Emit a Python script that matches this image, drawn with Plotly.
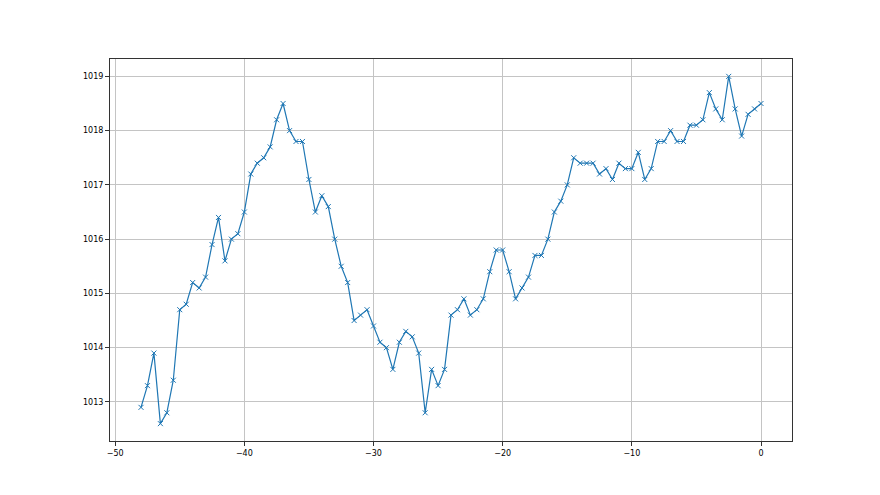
import plotly.graph_objects as go

# Hours relative to now, half-hour steps
hours = [-48 + 0.5 * i for i in range(97)]

# Pressure readings (hPa)
pressure = [
    1012.9, 1013.3, 1013.9, 1012.6, 1012.8, 1013.4, 1014.7, 1014.8, 1015.2, 1015.1,
    1015.3, 1015.9, 1016.4, 1015.6, 1016.0, 1016.1, 1016.5, 1017.2, 1017.4, 1017.5,
    1017.7, 1018.2, 1018.5, 1018.0, 1017.8, 1017.8, 1017.1, 1016.5, 1016.8, 1016.6,
    1016.0, 1015.5, 1015.2, 1014.5, 1014.6, 1014.7, 1014.4, 1014.1, 1014.0, 1013.6,
    1014.1, 1014.3, 1014.2, 1013.9, 1012.8, 1013.6, 1013.3, 1013.6, 1014.6, 1014.7,
    1014.9, 1014.6, 1014.7, 1014.9, 1015.4, 1015.8, 1015.8, 1015.4, 1014.9, 1015.1,
    1015.3, 1015.7, 1015.7, 1016.0, 1016.5, 1016.7, 1017.0, 1017.5, 1017.4, 1017.4,
    1017.4, 1017.2, 1017.3, 1017.1, 1017.4, 1017.3, 1017.3, 1017.6, 1017.1, 1017.3,
    1017.8, 1017.8, 1018.0, 1017.8, 1017.8, 1018.1, 1018.1, 1018.2, 1018.7, 1018.4,
    1018.2, 1019.0, 1018.4, 1017.9, 1018.3, 1018.4, 1018.5,
]

fig = go.Figure()

fig.add_trace(go.Scatter(
    x=hours, y=pressure, mode='lines+markers',
    line=dict(color='#1f77b4', width=1.2),
    marker=dict(symbol='x-thin', size=5, color='#1f77b4',
                line=dict(color='#1f77b4', width=1)),
))

axis_style = dict(
    showgrid=True, gridcolor='#c4c4c4', gridwidth=0.8,
    showline=True, linecolor='#333333', linewidth=1, mirror=True,
    ticks='outside', ticklen=4, tickcolor='#333333', tickwidth=1,
    zeroline=False,
    tickfont=dict(family='DejaVu Sans', size=8, color='black'),
)

fig.update_xaxes(range=[-50.4, 2.4], tickmode='array',
                 tickvals=[-50, -40, -30, -20, -10, 0], **axis_style)
fig.update_yaxes(range=[1012.28, 1019.32], tickmode='array',
                 tickvals=[1013, 1014, 1015, 1016, 1017, 1018, 1019], **axis_style)

# page body has an 8px margin, so shrink the figure to line up with the reference
fig.update_layout(
    width=872, height=487,
    margin=dict(l=102, r=88, t=51, b=54),
    plot_bgcolor='white', paper_bgcolor='white',
    showlegend=False,
)

fig.write_html("out.html")
